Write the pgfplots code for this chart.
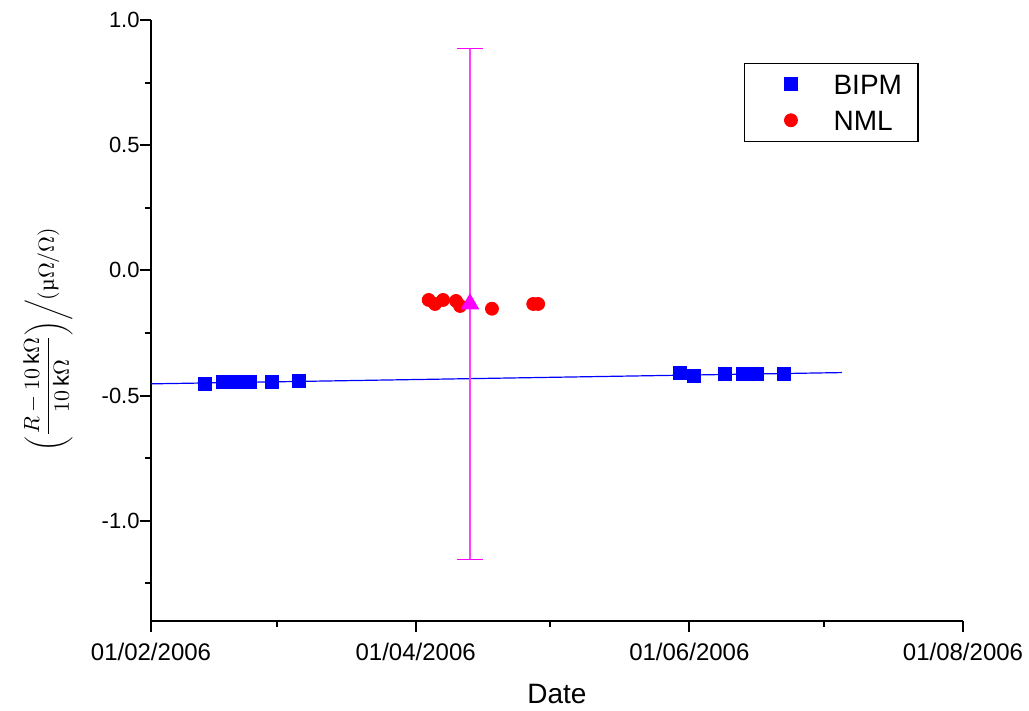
\documentclass[border=0pt]{standalone}
\usepackage{pgfplots}
\pgfplotsset{compat=1.18}
\usepackage{fontspec}
\setmainfont{Liberation Sans}
\newfontfamily\serif{Liberation Serif}
\definecolor{mag}{RGB}{255,0,255}
\definecolor{bipm}{RGB}{0,0,255}
\definecolor{nml}{RGB}{255,0,0}

\begin{document}
\begin{tikzpicture}
% 1 px of the reference = 0.5pt
\path[use as bounding box] (-75.5pt,-45pt) rectangle (439pt,310.5pt);
\begin{axis}[
    at={(0pt,0pt)}, anchor=south west,
    scale only axis, width=406pt, height=300.5pt,
    xmin=0, xmax=181, ymin=-1.4, ymax=1.0,
    axis x line*=bottom, axis y line*=left,
    axis line style={-, line width=1pt},
    tick align=outside,
    every tick/.style={black, line width=1pt},
    major tick length=5.5pt, minor tick length=3pt,
    xtick={0,59,120,181},
    minor xtick={28,89,150},
    xticklabels={01/02/2006,01/04/2006,01/06/2006,01/08/2006},
    ytick={-1,-0.5,0,0.5,1},
    minor ytick={-1.25,-0.75,-0.25,0.25,0.75},
    /pgf/number format/assume math mode=true,
    yticklabel style={/pgf/number format/fixed, /pgf/number format/fixed zerofill,
                      /pgf/number format/precision=1},
    x tick label style={font=\fontsize{12}{14}\selectfont, inner sep=0pt},
    xticklabel shift=5.5pt,
    y tick label style={font=\fontsize{11}{13}\selectfont, inner sep=0pt},
    xlabel={Date},
    xlabel style={at={(axis description cs:0.5,-0.1381)}, anchor=base,
                  font=\fontsize{14}{16}\selectfont},
    ylabel={$\left(\displaystyle\frac{R-10\,\mathrm{k}\Omega}{10\,\mathrm{k}\Omega}\right)\!\left/\vphantom{\displaystyle\frac{R}{R}}(\mbox{\serif µ}\Omega/\Omega)\right.$},
    ylabel style={at={(axis description cs:-0.1270,0.4705)}, anchor=center,
                  font=\fontsize{10.95}{13}\selectfont},
    legend style={at={(0.730,0.929)}, anchor=north west, draw=black, line width=0.6pt,
                  inner xsep=0pt, inner ysep=5.5pt, row sep=8pt,
                  font=\fontsize{14}{16}\selectfont,
                  nodes={inner sep=0pt, text height=10pt, text depth=0pt}},
    legend cell align=left,
    legend image code/.code={\path (0pt,0pt) (44pt,0pt); \draw[#1, line width=0.4pt] plot coordinates {(23pt,0pt)};},
]
% linear fit through the BIPM points
\addplot[bipm, line width=0.6pt, forget plot] coordinates {(0,-0.453) (154,-0.408)};

\addplot[only marks, mark=square*, mark size=3.25pt, bipm] coordinates {
    (12,-0.453) (16,-0.446) (19,-0.446) (22,-0.447) (27,-0.445) (33,-0.442)
    (118,-0.409) (121,-0.421) (128,-0.413) (132,-0.413) (135,-0.413) (141,-0.413)
};
\addlegendentry{BIPM\kern8pt}

\addplot[only marks, mark=*, mark size=3.25pt, nml] coordinates {
    (61.9,-0.118) (63.3,-0.134) (65.1,-0.118) (68.0,-0.122) (68.9,-0.142)
    (76.0,-0.153) (85.2,-0.134) (86.3,-0.134)
};
\addlegendentry{NML}

% NML mean with its uncertainty
\addplot[mag, only marks, mark=triangle*, mark size=5pt, forget plot,
    error bars/.cd, y dir=both, y explicit,
    error bar style={line width=0.6pt, mag!75},
    error mark options={rotate=90, mark size=6.5pt, mag, line width=0.6pt}]
    coordinates {(71.1,-0.134) +- (0,1.02)};
\end{axis}
\end{tikzpicture}
\end{document}
